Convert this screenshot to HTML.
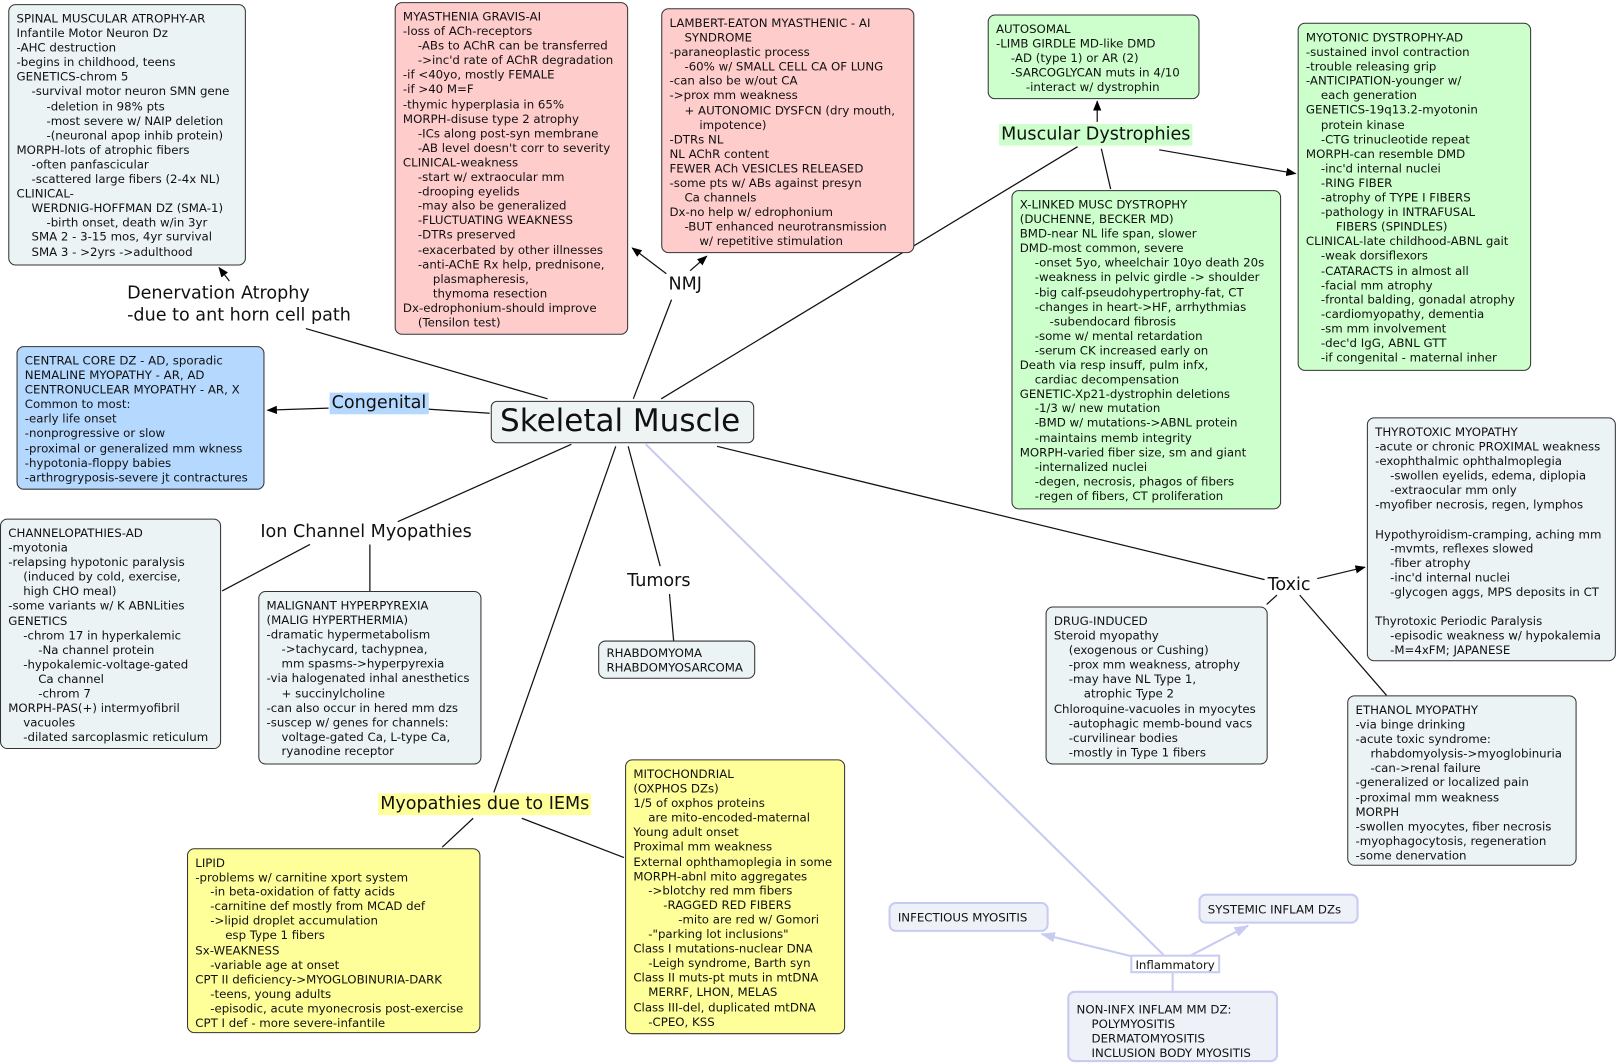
<!DOCTYPE html>
<html><head><meta charset="utf-8"><style>
html,body{margin:0;padding:0;background:#fff;width:1620px;height:1064px;overflow:hidden}
#w{position:absolute;left:0;top:0;width:1568px;height:1030px;transform:scale(1.03316);transform-origin:0 0;font-family:"DejaVu Sans","Liberation Sans",sans-serif}
.b{position:absolute;box-sizing:border-box;border:1px solid #333;border-radius:7px;padding:6px 7px;font-size:11.4px;line-height:14.1px;white-space:pre;color:#111;overflow:hidden}
.g{background:#ecf3f4}.p{background:#ffcccc}.gr{background:#ccffcc}.bl{background:#b5d8ff}.y{background:#ffff99}
.l{background:#eef1f8;border:2px solid #c8cbf2;color:#111}
.t{position:absolute;font-size:17px;line-height:21px;white-space:pre;color:#111}
svg{position:absolute;left:0;top:0}
</style></head><body><div id="w">
<svg width="1568" height="1030">
<defs><marker id="a" markerWidth="10" markerHeight="8" refX="9" refY="4" orient="auto" markerUnits="userSpaceOnUse"><path d="M0,0L10,4L0,8z" fill="#000"/></marker>
<marker id="c" markerWidth="14" markerHeight="10" refX="13" refY="5" orient="auto" markerUnits="userSpaceOnUse"><path d="M0,0L14,5L0,10z" fill="#c8cbf2"/></marker></defs>
<g stroke="#111" stroke-width="1.2" fill="none">
<line x1="530" y1="386" x2="296" y2="318"/>
<line x1="222" y1="272" x2="212" y2="259" marker-end="url(#a)"/>
<line x1="474" y1="400" x2="414" y2="396"/>
<line x1="318" y1="395" x2="259" y2="397" marker-end="url(#a)"/>
<line x1="613" y1="386" x2="650" y2="290"/>
<line x1="645" y1="265" x2="612" y2="240" marker-end="url(#a)"/>
<line x1="668" y1="262" x2="684" y2="248" marker-end="url(#a)"/>
<line x1="640" y1="386" x2="1043" y2="142"/>
<line x1="1062" y1="118" x2="1062" y2="98" marker-end="url(#a)"/>
<line x1="1122" y1="145" x2="1254" y2="168" marker-end="url(#a)"/>
<line x1="1066" y1="144" x2="1075" y2="183"/>
<line x1="553" y1="430" x2="385" y2="505"/>
<line x1="300" y1="527" x2="215" y2="572"/>
<line x1="358" y1="527" x2="358" y2="572"/>
<line x1="608" y1="432" x2="639" y2="548"/>
<line x1="648" y1="575" x2="652" y2="620"/>
<line x1="694" y1="432" x2="1224" y2="561"/>
<line x1="1275" y1="560" x2="1321" y2="549" marker-end="url(#a)"/>
<line x1="1236" y1="576" x2="1226" y2="585"/>
<line x1="1258" y1="576" x2="1342" y2="673"/>
<line x1="596" y1="432" x2="478" y2="767"/>
<line x1="458" y1="792" x2="428" y2="820"/>
<line x1="505" y1="792" x2="604" y2="830"/>
</g>
<g stroke="#c8cbf2" stroke-width="2" fill="none">
<line x1="625" y1="430" x2="1128" y2="926"/>
<line x1="1097" y1="926" x2="1008" y2="904" marker-end="url(#c)"/>
<line x1="1152" y1="925" x2="1208" y2="896" marker-end="url(#c)"/>
<line x1="1135" y1="941" x2="1135" y2="959"/>
</g>
</svg>

<div class="b g" style="left:8px;top:4px;width:230px;height:253px">SPINAL MUSCULAR ATROPHY-AR
Infantile Motor Neuron Dz
-AHC destruction
-begins in childhood, teens
GENETICS-chrom 5
    -survival motor neuron SMN gene
        -deletion in 98% pts
        -most severe w/ NAIP deletion
        -(neuronal apop inhib protein)
MORPH-lots of atrophic fibers
    -often panfascicular
    -scattered large fibers (2-4x NL)
CLINICAL-
    WERDNIG-HOFFMAN DZ (SMA-1)
        -birth onset, death w/in 3yr
    SMA 2 - 3-15 mos, 4yr survival
    SMA 3 - &gt;2yrs -&gt;adulthood</div>

<div class="b p" style="left:382px;top:2px;width:226px;height:322px">MYASTHENIA GRAVIS-AI
-loss of ACh-receptors
    -ABs to AChR can be transferred
    -&gt;inc'd rate of AChR degradation
-if &lt;40yo, mostly FEMALE
-if &gt;40 M=F
-thymic hyperplasia in 65%
MORPH-disuse type 2 atrophy
    -ICs along post-syn membrane
    -AB level doesn't corr to severity
CLINICAL-weakness
    -start w/ extraocular mm
    -drooping eyelids
    -may also be generalized
    -FLUCTUATING WEAKNESS
    -DTRs preserved
    -exacerbated by other illnesses
    -anti-AChE Rx help, prednisone,
        plasmapheresis,
        thymoma resection
Dx-edrophonium-should improve
    (Tensilon test)</div>

<div class="b p" style="left:640px;top:8px;width:245px;height:237px">LAMBERT-EATON MYASTHENIC - AI
    SYNDROME
-paraneoplastic process
    -60% w/ SMALL CELL CA OF LUNG
-can also be w/out CA
-&gt;prox mm weakness
    + AUTONOMIC DYSFCN (dry mouth,
        impotence)
-DTRs NL
NL AChR content
FEWER ACh VESICLES RELEASED
-some pts w/ ABs against presyn
    Ca channels
Dx-no help w/ edrophonium
    -BUT enhanced neurotransmission
        w/ repetitive stimulation</div>

<div class="b gr" style="left:956px;top:14px;width:205px;height:82px">AUTOSOMAL
-LIMB GIRDLE MD-like DMD
    -AD (type 1) or AR (2)
    -SARCOGLYCAN muts in 4/10
        -interact w/ dystrophin</div>

<div class="b gr" style="left:1256px;top:22px;width:226px;height:337px">MYOTONIC DYSTROPHY-AD
-sustained invol contraction
-trouble releasing grip
-ANTICIPATION-younger w/
    each generation
GENETICS-19q13.2-myotonin
    protein kinase
    -CTG trinucleotide repeat
MORPH-can resemble DMD
    -inc'd internal nuclei
    -RING FIBER
    -atrophy of TYPE I FIBERS
    -pathology in INTRAFUSAL
        FIBERS (SPINDLES)
CLINICAL-late childhood-ABNL gait
    -weak dorsiflexors
    -CATARACTS in almost all
    -facial mm atrophy
    -frontal balding, gonadal atrophy
    -cardiomyopathy, dementia
    -sm mm involvement
    -dec'd IgG, ABNL GTT
    -if congenital - maternal inher</div>

<div class="b gr" style="left:979px;top:184px;width:261px;height:309px">X-LINKED MUSC DYSTROPHY
(DUCHENNE, BECKER MD)
BMD-near NL life span, slower
DMD-most common, severe
    -onset 5yo, wheelchair 10yo death 20s
    -weakness in pelvic girdle -&gt; shoulder
    -big calf-pseudohypertrophy-fat, CT
    -changes in heart-&gt;HF, arrhythmias
        -subendocard fibrosis
    -some w/ mental retardation
    -serum CK increased early on
Death via resp insuff, pulm infx,
    cardiac decompensation
GENETIC-Xp21-dystrophin deletions
    -1/3 w/ new mutation
    -BMD w/ mutations-&gt;ABNL protein
    -maintains memb integrity
MORPH-varied fiber size, sm and giant
    -internalized nuclei
    -degen, necrosis, phagos of fibers
    -regen of fibers, CT proliferation</div>

<div class="b bl" style="left:16px;top:335px;width:240px;height:139px">CENTRAL CORE DZ - AD, sporadic
NEMALINE MYOPATHY - AR, AD
CENTRONUCLEAR MYOPATHY - AR, X
Common to most:
-early life onset
-nonprogressive or slow
-proximal or generalized mm wkness
-hypotonia-floppy babies
-arthrogryposis-severe jt contractures</div>

<div class="b g" style="left:0px;top:502px;width:214px;height:223px">CHANNELOPATHIES-AD
-myotonia
-relapsing hypotonic paralysis
    (induced by cold, exercise,
    high CHO meal)
-some variants w/ K ABNLities
GENETICS
    -chrom 17 in hyperkalemic
        -Na channel protein
    -hypokalemic-voltage-gated
        Ca channel
        -chrom 7
MORPH-PAS(+) intermyofibril
    vacuoles
    -dilated sarcoplasmic reticulum</div>

<div class="b g" style="left:250px;top:572px;width:216px;height:168px">MALIGNANT HYPERPYREXIA
(MALIG HYPERTHERMIA)
-dramatic hypermetabolism
    -&gt;tachycard, tachypnea,
    mm spasms-&gt;hyperpyrexia
-via halogenated inhal anesthetics
    + succinylcholine
-can also occur in hered mm dzs
-suscep w/ genes for channels:
    voltage-gated Ca, L-type Ca,
    ryanodine receptor</div>

<div class="b g" style="left:579px;top:620px;width:152px;height:37px;padding-top:4px">RHABDOMYOMA
RHABDOMYOSARCOMA</div>

<div class="b y" style="left:605px;top:735px;width:213px;height:266px">MITOCHONDRIAL
(OXPHOS DZs)
1/5 of oxphos proteins
    are mito-encoded-maternal
Young adult onset
Proximal mm weakness
External ophthamoplegia in some
MORPH-abnl mito aggregates
    -&gt;blotchy red mm fibers
        -RAGGED RED FIBERS
            -mito are red w/ Gomori
    -"parking lot inclusions"
Class I mutations-nuclear DNA
    -Leigh syndrome, Barth syn
Class II muts-pt muts in mtDNA
    MERRF, LHON, MELAS
Class III-del, duplicated mtDNA
    -CPEO, KSS</div>

<div class="b y" style="left:181px;top:821px;width:284px;height:179px">LIPID
-problems w/ carnitine xport system
    -in beta-oxidation of fatty acids
    -carnitine def mostly from MCAD def
    -&gt;lipid droplet accumulation
        esp Type 1 fibers
Sx-WEAKNESS
    -variable age at onset
CPT II deficiency-&gt;MYOGLOBINURIA-DARK
    -teens, young adults
    -episodic, acute myonecrosis post-exercise
CPT I def - more severe-infantile</div>

<div class="b g" style="left:1323px;top:404px;width:241px;height:236px">THYROTOXIC MYOPATHY
-acute or chronic PROXIMAL weakness
-exophthalmic ophthalmoplegia
    -swollen eyelids, edema, diplopia
    -extraocular mm only
-myofiber necrosis, regen, lymphos

Hypothyroidism-cramping, aching mm
    -mvmts, reflexes slowed
    -fiber atrophy
    -inc'd internal nuclei
    -glycogen aggs, MPS deposits in CT

Thyrotoxic Periodic Paralysis
    -episodic weakness w/ hypokalemia
    -M=4xFM; JAPANESE</div>

<div class="b g" style="left:1012px;top:587px;width:215px;height:153px">DRUG-INDUCED
Steroid myopathy
    (exogenous or Cushing)
    -prox mm weakness, atrophy
    -may have NL Type 1,
        atrophic Type 2
Chloroquine-vacuoles in myocytes
    -autophagic memb-bound vacs
    -curvilinear bodies
    -mostly in Type 1 fibers</div>

<div class="b g" style="left:1304px;top:673px;width:222px;height:165px">ETHANOL MYOPATHY
-via binge drinking
-acute toxic syndrome:
    rhabdomyolysis-&gt;myoglobinuria
    -can-&gt;renal failure
-generalized or localized pain
-proximal mm weakness
MORPH
-swollen myocytes, fiber necrosis
-myophagocytosis, regeneration
-some denervation</div>

<div class="b l" style="left:860px;top:873px;width:155px;height:29px;padding-top:6px">INFECTIOUS MYOSITIS</div>
<div class="b l" style="left:1160px;top:865px;width:155px;height:29px;padding-top:6px">SYSTEMIC INFLAM DZs</div>
<div class="b l" style="left:1033px;top:959px;width:204px;height:69px;padding-top:9px">NON-INFX INFLAM MM DZ:
    POLYMYOSITIS
    DERMATOMYOSITIS
    INCLUSION BODY MYOSITIS</div>
<div class="b" style="left:1094px;top:924px;width:87px;height:18px;padding:1px 3px;border:2px solid #c8cbf2;border-radius:0;background:#fff">Inflammatory</div>

<div class="b" style="left:475px;top:388px;width:255px;height:41px;background:#eef3f3;font-size:30px;line-height:38px;padding:0 0 0 8px;border-radius:6px">Skeletal Muscle</div>

<div class="t" style="left:123px;top:274px">Denervation Atrophy
-due to ant horn cell path</div>
<div class="t" style="left:319px;top:380px;background:#b5d8ff;padding:0 2px">Congenital</div>
<div class="t" style="left:647px;top:265px">NMJ</div>
<div class="t" style="left:967px;top:120px;background:#ccffcc;padding:0 2px">Muscular Dystrophies</div>
<div class="t" style="left:252px;top:505px">Ion Channel Myopathies</div>
<div class="t" style="left:607px;top:552px">Tumors</div>
<div class="t" style="left:1227px;top:556px">Toxic</div>
<div class="t" style="left:366px;top:768px;background:#ffff99;padding:0 2px">Myopathies due to IEMs</div>
</div></body></html>
